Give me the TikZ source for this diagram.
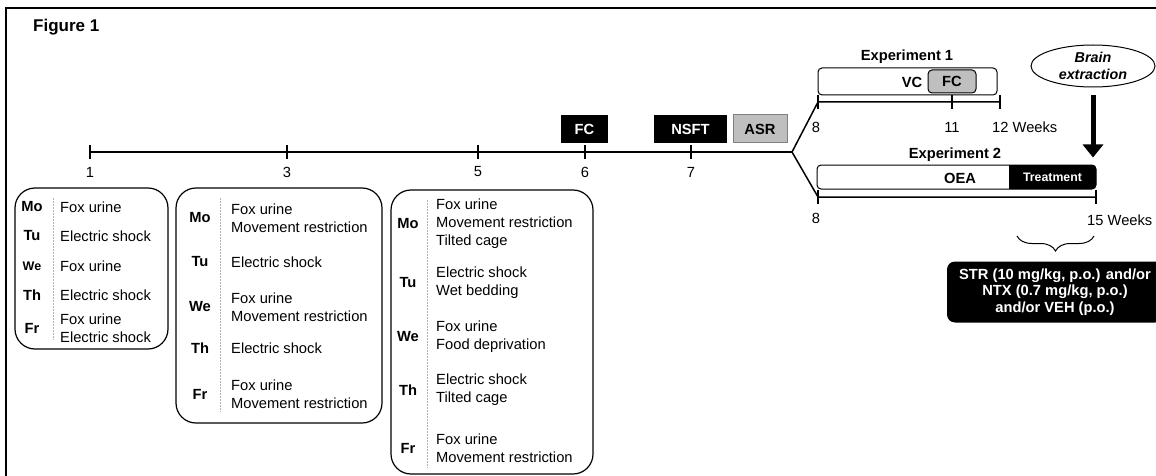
\documentclass[tikz,border=0pt]{standalone}
\usepackage{fontspec}
\setmainfont{Liberation Sans}
\usetikzlibrary{shapes.geometric,arrows.meta,decorations.pathreplacing}
\tikzset{>=latex}
\tikzset{
  tl/.style={line width=1.5pt},
  txt/.style={font=\fontsize{14.7}{18}\selectfont, inner sep=0pt},
  bold/.style={txt, font=\fontsize{14.7}{18}\selectfont\bfseries},
  act/.style={txt, anchor=west, align=left},
  daybox/.style={line width=1.2pt, rounded corners=20pt},
  sep/.style={gray!60, line width=0.8pt, dash pattern=on 1.5pt off 1.5pt},
  blackbox/.style={bold, fill=black, text=white, minimum height=28pt},
  graybox/.style={bold, fill=gray!50, draw=gray, line width=1pt, minimum height=28pt},
  expbox/.style={draw, line width=1pt, rounded corners=4pt, inner sep=0pt},
  bigarrow/.style={line width=5pt, -{Triangle[width=20pt,length=13pt]}},
}
\newcommand{\dayrow}[6]{%
  \node[bold] (#1) at (#2,#4) {#5};
  \node[act] (#1a) at (#3,#4) {#6};
}
\newcommand{\wtick}[2]{
  \draw[tl](#1,#2-7)--(#1,#2+7)
}

\begin{document}
\begin{tikzpicture}[x=1pt,y=-1pt]
    \useasboundingbox (0,0) rectangle (1156,476);
    \draw[line width=1.8pt] (6,8) rectangle (1200,520);
    \node[txt, anchor=west, font=\fontsize{17}{20}\selectfont\bfseries] (title) at (33,27) {Figure 1};

    % main timeline
    \coordinate (w1) at (90,152);
    \coordinate (fork) at (792,152);
    \draw[tl] (w1) -- (fork);
    \foreach \n/\x in {1/90,3/287,5/478,6/585,7/691}{
      \wtick{\x}{152};
      \node[txt] (n\n) at (\x,172) {\n};
    }
    \node[blackbox, minimum width=47pt] (fc) at (584.5,129) {FC};
    \node[blackbox, minimum width=73pt] (nsft) at (690.5,129) {NSFT};
    \node[graybox, minimum width=54pt] (asr) at (760,129) {ASR};

    % experiment 1
    \coordinate (a8) at (818,102);
    \coordinate (a12) at (1000,102);
    \draw[tl] (fork) -- (a8) -- (a12);
    \wtick{818}{102}; \wtick{952}{102}; \wtick{1000}{102};
    \node[txt] (a8l) at (816,127) {8};
    \node[txt] (a11l) at (952,127) {11};
    \node[txt, anchor=west] (a12l) at (992,127) {12 Weeks};
    \node[bold] (exp1l) at (907,57) {Experiment 1};
    \node[expbox, minimum width=179pt, minimum height=27pt] (exp1) at (907.5,81.5) {};
    \node[bold] (vc) at (912,82) {VC};
    \node[expbox, fill=gray!50, minimum width=48pt, minimum height=23pt, font=\fontsize{14.7}{18}\selectfont\bfseries] (fc1) at (952,81.5) {FC};

    % experiment 2
    \coordinate (b8) at (818,197);
    \coordinate (b15) at (1096,197);
    \draw[tl] (fork) -- (b8) -- (b15);
    \wtick{818}{197}; \wtick{1096}{197};
    \node[txt] (b8l) at (816,218) {8};
    \node[txt, anchor=west] (b15l) at (1087,220) {15 Weeks};
    \node[bold] (exp2l) at (955,155) {Experiment 2};
    \node[expbox, minimum width=279pt, minimum height=24pt] (exp2) at (956.5,177) {};
    \fill (1009,165) [rounded corners=4pt] -- (1096,165) -- (1096,189) [sharp corners] -- (1009,189) -- cycle;
    \node[bold] (oea) at (960,178) {OEA};
    \node[bold, text=white, font=\fontsize{12.3}{14}\selectfont\bfseries] (treat) at (1052.5,177) {Treatment};

    \node[ellipse, draw, line width=1pt, minimum width=124pt, minimum height=42pt] (brain) at (1093,66) {};
    \node[txt, align=center, font=\fontsize{14.3}{17}\selectfont\bfseries\itshape] (brainl) at (brain) {Brain\\extraction};
    \draw[bigarrow, shorten <=8pt, shorten >=7pt] (brain.south) -- (brain.south |- exp2.north);

    \draw[line width=1pt, decorate, decoration={brace, mirror, amplitude=15pt}] (1017,236) -- (1094,236);
    \node[blackbox, rounded corners=8pt, minimum width=216pt, minimum height=61pt, align=center, font=\fontsize{14.7}{16.5}\selectfont\bfseries] (drug) at (1055,292) {STR (10 mg/kg, p.o.) and/or\\NTX (0.7 mg/kg, p.o.)\\and/or VEH (p.o.)};

    % week 1
    \draw[daybox] (15,188) rectangle (168,349);
    \draw[sep] (53,198) -- (53,340);
    \dayrow{amo}{32}{60}{207}{Mo}{Fox urine}
    \dayrow{atu}{32}{60}{236}{Tu}{Electric shock}
    \dayrow{awe}{32}{60}{266}{\fontsize{12.5}{15}\selectfont We}{Fox urine}
    \dayrow{ath}{32}{60}{295}{Th}{Electric shock}
    \dayrow{afr}{32}{60}{328}{Fr}{Fox urine\\Electric shock}

    % week 3
    \draw[daybox] (176,188) rectangle (382,423);
    \draw[sep] (220,198) -- (220,412);
    \dayrow{bmo}{200}{231}{218}{Mo}{Fox urine\\Movement restriction}
    \dayrow{btu}{200}{231}{262}{Tu}{Electric shock}
    \dayrow{bwe}{200}{231}{307}{We}{Fox urine\\Movement restriction}
    \dayrow{bth}{200}{231}{348}{Th}{Electric shock}
    \dayrow{bfr}{200}{231}{394}{Fr}{Fox urine\\Movement restriction}

    % week 5
    \draw[daybox] (391,190) rectangle (593,474);
    \draw[sep] (427,200) -- (427,468);
    \dayrow{cmo}{408}{436}{224}{Mo}{Fox urine\\Movement restriction\\Tilted cage}
    \dayrow{ctu}{408}{436}{283}{Tu}{Electric shock\\Wet bedding}
    \dayrow{cwe}{408}{436}{337}{We}{Fox urine\\Food deprivation}
    \dayrow{cth}{408}{436}{390}{Th}{Electric shock\\Tilted cage}
    \dayrow{cfr}{408}{436}{448}{Fr}{Fox urine\\Movement restriction}
\end{tikzpicture}
\end{document}
